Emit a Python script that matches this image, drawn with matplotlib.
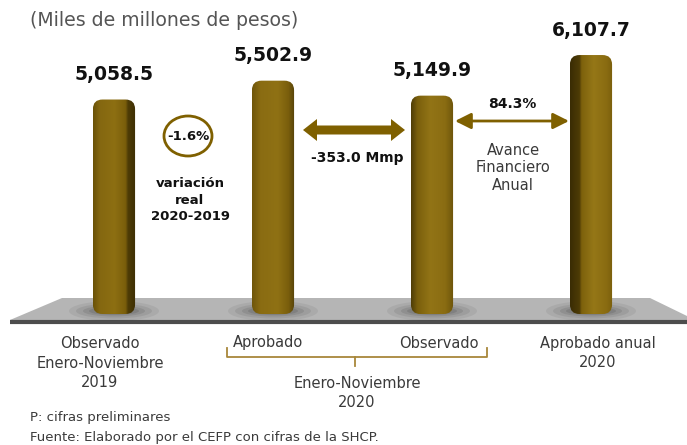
import matplotlib
matplotlib.use("Agg")
import matplotlib.pyplot as plt
import numpy as np
from matplotlib.patches import FancyBboxPatch, Polygon, Ellipse, FancyArrowPatch
from matplotlib.colors import to_rgb

# ---------------- data ----------------
categories = ["Observado Enero-Noviembre 2019", "Aprobado Ene-Nov 2020",
              "Observado Ene-Nov 2020", "Aprobado anual 2020"]
values = [5058.5, 5502.9, 5149.9, 6107.7]
value_labels = ["5,058.5", "5,502.9", "5,149.9", "6,107.7"]
variation_label = "-1.6%"
difference_label = "-353.0 Mmp"
progress_label = "84.3%"

W, H = 687, 445
fig = plt.figure(figsize=(W / 100, H / 100), dpi=100)
fig.patch.set_facecolor("white")

# background axes in pixel coordinates (decorations / text)
bg = fig.add_axes([0, 0, 1, 1])
bg.set_xlim(0, W)
bg.set_ylim(H, 0)
bg.axis("off")

FONT = "DejaVu Sans"
DARK = "#3a3a3a"
OLIVE = "#7f6000"

# floor
floor = Polygon([(10, 320), (62, 298), (650, 298), (687, 316), (687, 320)],
                closed=True, facecolor="#b5b5b5", edgecolor="none", zorder=1)
bg.add_patch(floor)
bg.plot([10, 687], [321.5, 321.5], color="#4d4d4d", lw=3, solid_capstyle="butt", zorder=2)

# bar axes (data coordinates)
base_px = 314
px_per_unit = 0.0424
spacing_px = 159
x0_px = 114
ymax = base_px / px_per_unit
ax = fig.add_axes([0, (H - base_px) / H, 1, base_px / H], zorder=5)
ax.patch.set_alpha(0)
ax.axis("off")

x = np.arange(len(values))
bar_w = 0.265

# shading profiles: (position 0..1, colour)
profiles = [
    [(0, "#6a5208"), (0.15, "#846710"), (0.5, "#8d6f12"), (0.76, "#7a5e0b"), (0.82, "#4e3c06"), (1, "#3e2f04")],
    [(0, "#6f560a"), (0.2, "#8a6c12"), (0.6, "#8f7114"), (0.85, "#7a5e0c"), (1, "#55420a")],
    [(0, "#4e3d07"), (0.15, "#7a5f0c"), (0.45, "#927416"), (0.8, "#8a6c12"), (1, "#6c540a")],
    [(0, "#3a2c04"), (0.22, "#4e3c06"), (0.27, "#7d610c"), (0.55, "#957717"), (0.85, "#8a6c11"), (1, "#7a5f0c")],
]

def make_gradient(profile, n=120):
    pos = np.array([p for p, _ in profile])
    cols = np.array([to_rgb(c) for _, c in profile])
    t = np.linspace(0, 1, n)
    rgb = np.stack([np.interp(t, pos, cols[:, k]) for k in range(3)], axis=-1)
    return rgb[None, :, :]

x_units_per_px = 1.0 / spacing_px
y_units_per_px = 1.0 / px_per_unit
aspect = y_units_per_px / x_units_per_px

for i, v in enumerate(values):
    left = x[i] - bar_w / 2
    patch = FancyBboxPatch((left, 0), bar_w, v,
                           boxstyle="round,pad=0,rounding_size=0.06",
                           mutation_aspect=aspect,
                           facecolor="none", edgecolor="none", transform=ax.transData)
    ax.add_patch(patch)
    img = ax.imshow(make_gradient(profiles[i]), extent=(left, left + bar_w, 0, v),
                    aspect="auto", interpolation="bilinear", zorder=3)
    img.set_clip_path(patch)
    ax.annotate(value_labels[i], (x[i], v), xytext=(0, 18), textcoords="offset points",
                ha="center", va="center", fontsize=13.5, fontweight="bold",
                color="#111111", family=FONT, zorder=6)

# bar shadows on the floor (pixel coords)
for i in range(len(values)):
    cx = x0_px + spacing_px * i
    for k, (ww, hh, a) in enumerate([(90, 20, 0.08), (76, 15, 0.10), (62, 11, 0.13), (50, 8, 0.16)]):
        bg.add_patch(Ellipse((cx, 311), ww, hh, facecolor="#333333", alpha=a,
                             edgecolor="none", zorder=2))

ax.set_xlim(-x0_px / spacing_px, (W - x0_px) / spacing_px)
ax.set_ylim(0, ymax)

# title
bg.text(30, 20, "(Miles de millones de pesos)", fontsize=13.6, color="#555555",
        family=FONT, ha="left", va="center")

# variation ellipse
bg.add_patch(Ellipse((188, 136), 48, 40, facecolor="none", edgecolor=OLIVE, lw=2, zorder=4))
bg.text(188, 137, variation_label, fontsize=9.5, fontweight="bold", ha="center", va="center",
        color="#111111", family=FONT)
bg.text(190, 200, "variación\nreal\n2020-2019", fontsize=9.5, fontweight="bold", ha="center",
        va="center", color="#111111", family=FONT, linespacing=1.35)

# thick double arrow
xa, xb, yc = 303, 405, 130
shaft, head_h, head_l = 4.5, 11, 14
thick = Polygon([(xa, yc), (xa + head_l, yc - head_h), (xa + head_l, yc - shaft),
                 (xb - head_l, yc - shaft), (xb - head_l, yc - head_h), (xb, yc),
                 (xb - head_l, yc + head_h), (xb - head_l, yc + shaft),
                 (xa + head_l, yc + shaft), (xa + head_l, yc + head_h)],
                closed=True, facecolor=OLIVE, edgecolor="none", zorder=4)
bg.add_patch(thick)
bg.text(357, 158, difference_label, fontsize=10, fontweight="bold", ha="center", va="center",
        color="#111111", family=FONT)

# thin double arrow
bg.add_patch(FancyArrowPatch((455, 121), (569, 121), arrowstyle="<|-|>,head_length=6,head_width=3",
                             color=OLIVE, lw=2, mutation_scale=1.6, shrinkA=0, shrinkB=0, zorder=4))
bg.text(512, 104, progress_label, fontsize=10, fontweight="bold", ha="center", va="center",
        color="#111111", family=FONT)
bg.text(513, 168, "Avance\nFinanciero\nAnual", fontsize=10.5, ha="center", va="center",
        color="#3a3a3a", family=FONT, linespacing=1.2)

# category labels
fs = 10.5
bg.text(100, 363, "Observado\nEnero-Noviembre\n2019", fontsize=fs, ha="center", va="center",
        color=DARK, family=FONT, linespacing=1.35)
bg.text(268, 343, "Aprobado", fontsize=fs, ha="center", va="center", color=DARK, family=FONT)
bg.text(439, 343, "Observado", fontsize=fs, ha="center", va="center", color=DARK, family=FONT)
bg.text(357, 393, "Enero-Noviembre\n2020", fontsize=fs, ha="center", va="center",
        color=DARK, family=FONT, linespacing=1.35)
bg.text(598, 353, "Aprobado anual\n2020", fontsize=fs, ha="center", va="center",
        color=DARK, family=FONT, linespacing=1.35)

# bracket
BR = "#a8873a"
bg.plot([227, 227, 487, 487], [348, 357, 357, 348], color=BR, lw=1.3, zorder=3)
bg.plot([355, 355], [357, 366], color=BR, lw=1.3, zorder=3)

# footnotes
bg.text(30, 417, "P: cifras preliminares", fontsize=9.5, ha="left", va="center",
        color=DARK, family=FONT)
bg.text(30, 437, "Fuente: Elaborado por el CEFP con cifras de la SHCP.", fontsize=9.5,
        ha="left", va="center", color=DARK, family=FONT)

fig.savefig("out.png", dpi=100, facecolor="white")
